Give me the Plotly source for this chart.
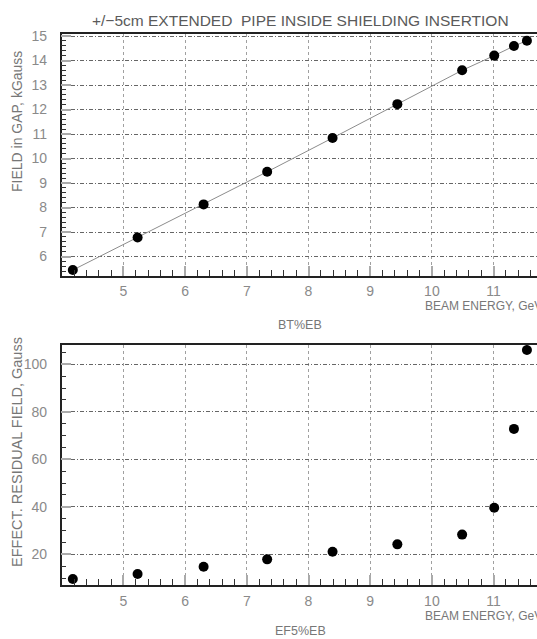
import plotly.graph_objects as go

# ---- data ----
beam_energy = [4.18, 5.23, 6.30, 7.33, 8.39, 9.44, 10.49, 11.01, 11.33, 11.54]
field_gap = [5.45, 6.78, 8.13, 9.46, 10.84, 12.22, 13.60, 14.20, 14.59, 14.81]
residual_field = [9.6, 11.7, 14.8, 17.9, 21.1, 24.2, 28.3, 39.6, 72.8, 106.0]

x_ticks = [5, 6, 7, 8, 9, 10, 11]
top_y_ticks = [6, 7, 8, 9, 10, 11, 12, 13, 14, 15]
bot_y_ticks = [20, 40, 60, 80, 100]

title_text = "+/\u22125cm EXTENDED  PIPE INSIDE SHIELDING INSERTION"
top_ylabel = "FIELD in GAP, kGauss"
bot_ylabel = "EFFECT. RESIDUAL FIELD, Gauss"
xlabel = "BEAM ENERGY, GeV"
top_name = "BT%EB"
bot_name = "EF5%EB"

W, H = 537, 639
FONT = "Liberation Sans, Arial, sans-serif"
GRAY = "#8a8a8a"

def px_x(p):
    return p / W

def px_y(p):
    return 1 - p / H

fig = go.Figure()

fig.add_trace(go.Scatter(x=beam_energy, y=field_gap, mode="lines",
                         line=dict(color="#8c8c8c", width=1),
                         xaxis="x", yaxis="y", showlegend=False, hoverinfo="skip"))
fig.add_trace(go.Scatter(x=beam_energy, y=field_gap, mode="markers",
                         marker=dict(color="black", size=10),
                         xaxis="x", yaxis="y", showlegend=False))
fig.add_trace(go.Scatter(x=beam_energy, y=residual_field, mode="markers",
                         marker=dict(color="black", size=10),
                         xaxis="x2", yaxis="y2", showlegend=False))

left = 61.7
pxu = 61.7
xdom = [px_x(left), 1.0]
xrange = [4.0, 4.0 + (W - left) / pxu]

common_x = dict(
    domain=xdom, range=xrange, tickmode="array", tickvals=x_ticks,
    ticks="inside", ticklen=10, tickcolor="#aaaaaa", tickwidth=1.5,
    showline=True, linecolor="#222", linewidth=1.5, mirror=True,
    showgrid=True, gridcolor="#a0a0a0", griddash="dot", gridwidth=1.2,
    zeroline=False, automargin=False,
    tickfont=dict(family=FONT, size=14, color=GRAY),
    minor=dict(dtick=0.2, tick0=0, ticks="inside", ticklen=6, tickcolor="#333", tickwidth=1, showgrid=False),
    ticklabelstandoff=2,
)
common_y = dict(
    ticks="inside", ticklen=10, tickcolor="#aaaaaa", tickwidth=1.5,
    showline=True, linecolor="#222", linewidth=1.5, mirror=False,
    showgrid=True, gridcolor="#666666", griddash="4px,2px,1px,2px", gridwidth=1,
    zeroline=False, automargin=False, tickmode="array",
    tickfont=dict(family=FONT, size=14, color=GRAY),
    ticklabelstandoff=10,
)

fig.update_layout(
    width=W, height=H,
    margin=dict(l=0, r=0, t=0, b=0),
    paper_bgcolor="white", plot_bgcolor="white",
    xaxis=dict(**common_x, anchor="y"),
    yaxis=dict(**common_y, anchor="x", tickvals=top_y_ticks,
               domain=[px_y(275.7), px_y(34.3)], range=[5.22, 15.07],
               minor=dict(dtick=0.2, tick0=0, ticks="inside", ticklen=5, tickcolor="#333", tickwidth=1, showgrid=False)),
    xaxis2=dict(**common_x, anchor="y2"),
    yaxis2=dict(**common_y, anchor="x2", tickvals=bot_y_ticks,
                domain=[px_y(585), px_y(345)], range=[7.1, 108.1],
                minor=dict(dtick=5, tick0=0, ticks="inside", ticklen=5, tickcolor="#333", tickwidth=1, showgrid=False)),
    showlegend=False,
)

ann = []
ann.append(dict(text=title_text, x=px_x(300), y=px_y(20), xref="paper", yref="paper",
                xanchor="center", yanchor="middle", showarrow=False,
                font=dict(family=FONT, size=15.5, color="#5a5a5a")))
ann.append(dict(text=top_ylabel, x=px_x(17), y=px_y(122), xref="paper", yref="paper",
                xanchor="center", yanchor="middle", textangle=-90, showarrow=False,
                font=dict(family=FONT, size=14, color="#777")))
ann.append(dict(text=bot_ylabel, x=px_x(17), y=px_y(452), xref="paper", yref="paper",
                xanchor="center", yanchor="middle", textangle=-90, showarrow=False,
                font=dict(family=FONT, size=14.5, color="#777")))
for yb, yn, name in [(306, 325, top_name), (616, 631, bot_name)]:
    ann.append(dict(text=xlabel, x=px_x(423), y=px_y(yb), xref="paper", yref="paper",
                    xanchor="left", yanchor="middle", showarrow=False,
                    font=dict(family=FONT, size=12, color="#777")))
    ann.append(dict(text=name, x=px_x(300), y=px_y(yn), xref="paper", yref="paper",
                    xanchor="center", yanchor="middle", showarrow=False,
                    font=dict(family=FONT, size=12.5, color="#777")))
fig.update_layout(annotations=ann)

fig.write_html(
    "out.html",
    config={"displayModeBar": False},
    post_script="document.documentElement.style.overflow='hidden';"
                "document.body.style.margin='0';document.body.style.overflow='hidden';",
)
